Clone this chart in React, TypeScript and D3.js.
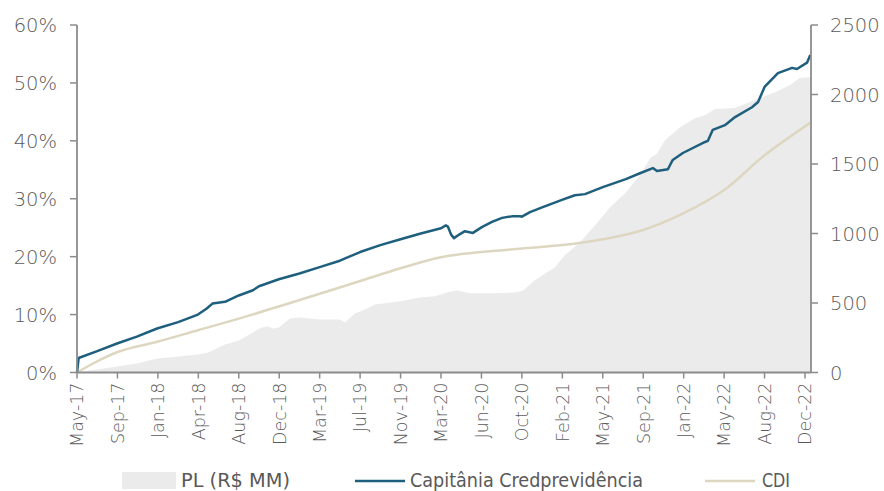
import React from "react";
import * as d3 from "d3";

// X positions are expressed in tick-interval units (0 = May-17 ... 18 = Dec-22)
const tickLabels = [
  "May-17", "Sep-17", "Jan-18", "Apr-18", "Aug-18", "Dec-18", "Mar-19", "Jul-19",
  "Nov-19", "Mar-20", "Jun-20", "Oct-20", "Feb-21", "May-21", "Sep-21", "Jan-22",
  "May-22", "Aug-22", "Dec-22",
];
const leftTicks = [0, 10, 20, 30, 40, 50, 60];
const rightTicks = [0, 500, 1000, 1500, 2000, 2500];

// Capitânia Credprevidência (cumulative return, %)
const capPeriod = [
  0, 0.04, 0.5, 0.99, 1.48, 1.98, 2.5, 2.99, 3.2, 3.35, 3.66, 4.0, 4.35, 4.5, 4.99, 5.5,
  6.0, 6.5, 7.0, 7.5, 8.0, 8.5, 9.0, 9.12, 9.17, 9.25, 9.32, 9.47, 9.59, 9.79, 10.01,
  10.26, 10.51, 10.78, 10.95, 11.0, 11.2, 11.5, 11.99, 12.31, 12.56, 13.0, 13.57, 13.92,
  14.24, 14.34, 14.61, 14.73, 14.98, 15.53, 15.6, 15.72, 16.02, 16.27, 16.69, 16.84,
  17.0, 17.33, 17.68, 17.8, 18.05, 18.13,
];
const capValues = [
  0, 2.5, 3.7, 5.0, 6.2, 7.6, 8.7, 10.0, 11.0, 11.9, 12.2, 13.3, 14.2, 14.9, 16.1, 17.1,
  18.2, 19.3, 20.8, 22.0, 23.0, 24.0, 24.9, 25.4, 25.2, 23.8, 23.2, 23.9, 24.4, 24.1, 25.1,
  26.0, 26.7, 27.0, 27.0, 26.9, 27.7, 28.5, 29.8, 30.6, 30.8, 32.0, 33.4, 34.4,
  35.3, 34.8, 35.1, 36.7, 37.9, 39.8, 40.0, 41.9, 42.7, 44.1, 45.8, 46.7,
  49.3, 51.7, 52.6, 52.4, 53.5, 54.8,
];

// CDI (cumulative, %)
const cdiPeriod = [0, 0.49, 0.99, 1.98, 2.99, 4.0, 4.99, 6.0, 7.0, 8.0, 9.0, 10.0, 11.0, 12.0, 13.0, 14.0, 15.0, 16.0, 17.0, 18.13];
const cdiValues = [0, 1.9, 3.5, 5.3, 7.3, 9.3, 11.4, 13.6, 15.8, 18.0, 19.9, 20.8, 21.4, 22.0, 23.0, 24.6, 27.5, 31.5, 37.5, 43.1];

// PL (R$ MM)
const plPeriod = [
  0, 0.49, 0.99, 1.48, 1.98, 2.5, 2.99, 3.24, 3.66, 4.0, 4.35, 4.57, 4.72, 4.85, 4.99,
  5.27, 5.51, 6.0, 6.5, 6.63, 6.87, 7.12, 7.37, 7.99, 8.48, 8.85, 9.15, 9.39, 9.72,
  10.33, 10.83, 11.03, 11.32, 11.57, 11.82, 12.06, 12.44, 12.81, 13.18, 13.55, 13.92,
  14.17, 14.34, 14.54, 14.91, 15.28, 15.53, 15.77, 16.27, 16.76, 17.26, 17.63, 17.87, 18.13,
];
const plValues = [
  0, 22, 43, 65, 100, 115, 130, 144, 202, 230, 288, 324, 331, 317, 324,
  389, 396, 382, 382, 360, 425, 454, 490, 512, 540, 548, 576, 590, 570,
  570, 576, 590, 663, 713, 757, 843, 937, 1059, 1189, 1290, 1419,
  1542, 1575, 1671, 1765, 1830, 1851, 1895, 1902, 1960, 2017, 2068, 2118, 2125,
];

const legendLabels = ["PL (R$ MM)", "Capitânia Credprevidência", "CDI"];

const W = 884;
const H = 491;
const left = 77;
const right = 811;
const top = 25;
const bottom = 372.5;

const axisColor = "#8c8c8c";
const textColor = "#595959";
const capColor = "#1f5f7e";
const cdiColor = "#ddd6c0";
const areaColor = "#ebebeb";
const tickFont = "'DejaVu Sans', sans-serif";
const legendFont = "'DejaVu Sans Condensed', 'DejaVu Sans', sans-serif";

export default function App() {
  const x = d3.scaleLinear().domain([0, 18]).range([left, 805]);
  const yL = d3.scaleLinear().domain([0, 60]).range([bottom, top]);
  const yR = d3.scaleLinear().domain([0, 2500]).range([bottom, top]);

  const capData = capPeriod.map((p, i) => [p, capValues[i]] as [number, number]);
  const cdiData = cdiPeriod.map((p, i) => [p, cdiValues[i]] as [number, number]);
  const plData = plPeriod.map((p, i) => [p, plValues[i]] as [number, number]);

  const area = d3
    .area<[number, number]>()
    .x((d) => x(d[0]))
    .y0(yR(0))
    .y1((d) => yR(d[1]));
  const capLine = d3
    .line<[number, number]>()
    .x((d) => x(d[0]))
    .y((d) => yL(d[1]));
  const cdiLine = d3
    .line<[number, number]>()
    .x((d) => x(d[0]))
    .y((d) => yL(d[1]))
    .curve(d3.curveMonotoneX);

  const legendText = (label: string, lx: number, len: number) => (
    <text
      x={lx}
      y={487}
      fontFamily={legendFont}
      fontSize={20}
      fill={textColor}
      textLength={len}
      lengthAdjust="spacingAndGlyphs"
    >
      {label}
    </text>
  );

  return (
    <svg
      width={W}
      height={H}
      style={{ position: "absolute", left: 0, top: 0, background: "#fff" }}
    >
      <path d={area(plData) || ""} fill={areaColor} />
      <path d={cdiLine(cdiData) || ""} fill="none" stroke={cdiColor} strokeWidth={2.5} />
      <path d={capLine(capData) || ""} fill="none" stroke={capColor} strokeWidth={2.5} strokeLinejoin="round" />

      {/* axes lines */}
      <line x1={left} x2={left} y1={top} y2={bottom} stroke={axisColor} strokeWidth={1.8} />
      <line x1={right} x2={right} y1={top} y2={bottom} stroke={axisColor} strokeWidth={1.8} />
      <line x1={left} x2={right} y1={bottom} y2={bottom} stroke={axisColor} strokeWidth={1.8} />

      {/* left ticks */}
      {leftTicks.map((t) => (
        <g key={"l" + t}>
          <line x1={left - 7} x2={left} y1={yL(t)} y2={yL(t)} stroke={axisColor} strokeWidth={1.5} />
          <text
            x={57}
            y={yL(t)}
            dy="0.36em"
            textAnchor="end"
            fontFamily={tickFont}
            fontSize={19.5}
            fontWeight={300}
            fill={textColor}
          >
            {t}%
          </text>
        </g>
      ))}

      {/* right ticks */}
      {rightTicks.map((t) => (
        <g key={"r" + t}>
          <line x1={right} x2={right + 7} y1={yR(t)} y2={yR(t)} stroke={axisColor} strokeWidth={1.5} />
          <text
            x={830}
            y={yR(t)}
            dy="0.36em"
            textAnchor="start"
            fontFamily={tickFont}
            fontSize={19.5}
            fontWeight={300}
            fill={textColor}
          >
            {t}
          </text>
        </g>
      ))}

      {/* x ticks */}
      {tickLabels.map((lab, i) => (
        <g key={lab}>
          <line x1={x(i)} x2={x(i)} y1={bottom} y2={bottom + 6} stroke={axisColor} strokeWidth={1.5} />
          <text
            transform={`translate(${x(i)},${bottom + 10}) rotate(-90)`}
            dy="0.36em"
            textAnchor="end"
            fontFamily={tickFont}
            fontSize={17.5}
            fontWeight={300}
            fill={textColor}
          >
            {lab}
          </text>
        </g>
      ))}

      {/* legend */}
      <rect x={122} y={472} width={54} height={17} fill={areaColor} />
      {legendText(legendLabels[0], 181, 109)}
      <line x1={355} x2={405} y1={481} y2={481} stroke={capColor} strokeWidth={2.5} />
      {legendText(legendLabels[1], 410, 233)}
      <line x1={705} x2={755} y1={481} y2={481} stroke={cdiColor} strokeWidth={2.5} />
      {legendText(legendLabels[2], 762, 28)}
    </svg>
  );
}
